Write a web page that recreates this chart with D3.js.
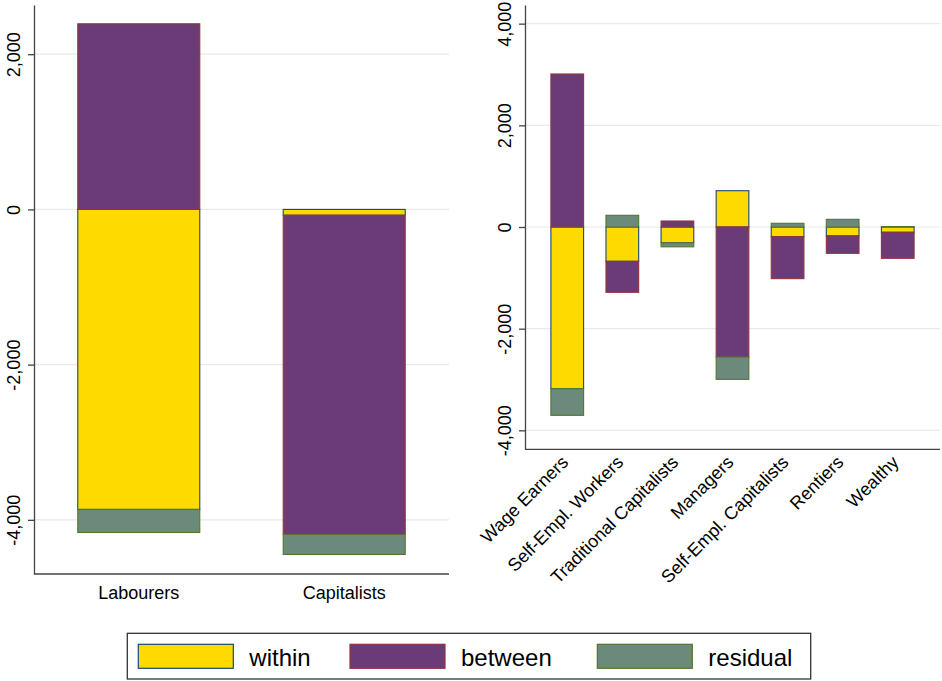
<!DOCTYPE html>
<html>
<head>
<meta charset="utf-8">
<script src="https://cdn.jsdelivr.net/npm/d3@7"></script>
<style>
  body { margin: 0; background: #fff; }
  svg { display: block; }
  text { font-family: "Liberation Sans", Arial, Helvetica, sans-serif; fill: #000; }
</style>
</head>
<body>
<svg id="chart" width="942" height="681"></svg>
<script>
// Decomposition components (stack order)
const components = ["within", "between", "residual"];

// Left panel: broad classes
const classes = ["Labourers", "Capitalists"];
const classWithin = [-3866, -75];
const classBetween = [2392, -4113];
const classResidual = [-297, -258];
const classTicks = [-4000, -2000, 0, 2000];

// Right panel: detailed groups
const groups = ["Wage Earners", "Self-Empl. Workers", "Traditional Capitalists", "Managers",
                "Self-Empl. Capitalists", "Rentiers", "Wealthy"];
const groupWithin = [-3181, -675, -310, 714, -188, -175, -104];
const groupBetween = [3010, -610, 118, -2558, -828, -343, -512];
const groupResidual = [-524, 230, -80, -439, 73, 151, 8];
const groupTicks = [-4000, -2000, 0, 2000, 4000];

const fills = { within: "#FFDA00", between: "#6B3B77", residual: "#6B8A7C" };
const strokes = { within: "#1A476F", between: "#90353B", residual: "#55752F" };

const fmt = d3.formatLocale({ decimal: ".", thousands: ",", grouping: [3], currency: ["", ""], minus: "-" }).format(",");

const svg = d3.select("#chart");
svg.append("rect").attr("width", 942).attr("height", 681).attr("fill", "#fff");

function panel(opts) {
  const rows = opts.cats.map((c, i) => ({
    cat: c, within: opts.within[i], between: opts.between[i], residual: opts.residual[i]
  }));
  const series = d3.stack().keys(components).offset(d3.stackOffsetDiverging)(rows);

  const x = d3.scalePoint().domain(opts.cats).range([opts.left, opts.right]).padding(opts.pad);
  const y = d3.scaleLinear().domain(opts.domain).range([opts.bottom, opts.top]);

  const g = svg.append("g");

  // gridlines
  g.append("g").selectAll("line").data(opts.ticks).join("line")
    .attr("x1", opts.left).attr("x2", opts.right)
    .attr("y1", d => y(d)).attr("y2", d => y(d))
    .attr("stroke", "#e9e9e9").attr("stroke-width", 1.2);

  // stacked bars
  series.forEach(s => {
    g.append("g").selectAll("rect").data(s).join("rect")
      .attr("x", d => x(d.data.cat) - opts.barW / 2)
      .attr("width", opts.barW)
      .attr("y", d => y(Math.max(d[0], d[1])))
      .attr("height", d => Math.abs(y(d[0]) - y(d[1])))
      .attr("fill", fills[s.key])
      .attr("stroke", strokes[s.key])
      .attr("stroke-width", 1.1);
  });

  // y axis
  const ya = g.append("g").attr("transform", `translate(${opts.left},0)`)
    .call(d3.axisLeft(y).tickValues(opts.ticks).tickFormat(fmt).tickSize(6).tickSizeOuter(0));
  ya.select(".domain").attr("stroke", "#444").attr("stroke-width", 1.3);
  ya.selectAll(".tick line").attr("stroke", "#444").attr("stroke-width", 1.3);
  ya.selectAll(".tick text")
    .attr("x", null).attr("dy", null)
    .attr("transform", "translate(-14,0) rotate(-90)")
    .attr("text-anchor", "middle")
    .style("font-size", "18px")
    .style("font-family", "\"Liberation Sans\", Arial, sans-serif")
    .attr("fill", "#000");

  // x axis line
  g.append("line")
    .attr("x1", opts.left).attr("x2", opts.right)
    .attr("y1", opts.bottom).attr("y2", opts.bottom)
    .attr("stroke", "#444").attr("stroke-width", 1.3);

  // category labels
  const lab = g.append("g").selectAll("text").data(opts.cats).join("text")
    .style("font-size", "18px")
    .text(d => d);
  if (opts.rotate) {
    lab.attr("text-anchor", "end")
      .attr("transform", d => `translate(${x(d) + 2},${opts.bottom + 14}) rotate(-45)`);
  } else {
    lab.attr("text-anchor", "middle")
      .attr("x", d => x(d)).attr("y", opts.bottom + 25);
  }
}

panel({
  cats: classes, within: classWithin, between: classBetween, residual: classResidual,
  ticks: classTicks, domain: [-4698, 2634],
  left: 34, right: 449, top: 5, bottom: 574, pad: 0.51, barW: 122, rotate: false
});

panel({
  cats: groups, within: groupWithin, between: groupBetween, residual: groupResidual,
  ticks: groupTicks, domain: [-4373, 4367],
  left: 525, right: 940, top: 5, bottom: 449.3, pad: 0.767, barW: 32.7, rotate: true
});

// legend
const legend = svg.append("g");
legend.append("rect")
  .attr("x", 127.3).attr("y", 633.3).attr("width", 683.4).attr("height", 45.7)
  .attr("fill", "#fff").attr("stroke", "#333").attr("stroke-width", 1.3);
const legendX = [138.3, 350, 597.3];
legend.selectAll("g.item").data(components).join("g")
  .attr("class", "item")
  .each(function (k, i) {
    const it = d3.select(this);
    it.append("rect")
      .attr("x", legendX[i]).attr("y", 644.3).attr("width", 95).attr("height", 24)
      .attr("fill", fills[k]).attr("stroke", strokes[k]).attr("stroke-width", 1.2);
    it.append("text")
      .attr("x", legendX[i] + 111).attr("y", 665.7)
      .style("font-size", "24px")
      .text(k);
  });
</script>
</body>
</html>
